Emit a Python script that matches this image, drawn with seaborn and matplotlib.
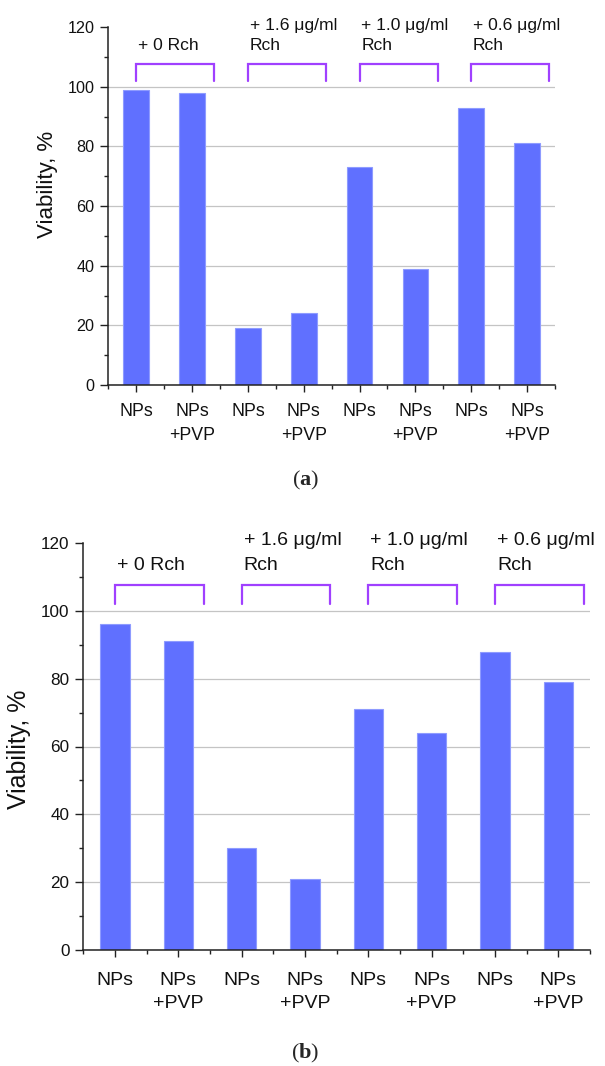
import numpy as np
import pandas as pd
import matplotlib
matplotlib.use("Agg")
import matplotlib.pyplot as plt
import matplotlib.transforms as mtransforms
from matplotlib.ticker import MultipleLocator, FixedLocator
import seaborn as sns

# ---- data ----
groups = ["+ 0 Rch", "+ 1.6 μg/ml\nRch", "+ 1.0 μg/ml\nRch", "+ 0.6 μg/ml\nRch"]
samples = ["NPs", "NPs\n+PVP"]
viability_a = [99, 98, 19, 24, 73, 39, 93, 81]
viability_b = [96, 91, 30, 21, 71, 64, 88, 79]
yticks = [0, 20, 40, 60, 80, 100, 120]
ylabel = "Viability, %"
captions = ["a", "b"]

sns.set_style("ticks")
plt.rcParams["font.family"] = ["Liberation Sans", "DejaVu Sans"]
plt.rcParams["mathtext.fontset"] = "custom"
plt.rcParams["mathtext.rm"] = "Liberation Serif"
plt.rcParams["mathtext.bf"] = "Liberation Serif:bold"

BAR = "#6070FF"
EDGE = "#8E9BFF"
BRACKET = "#A040FF"
GRID = "#C4C4C4"
SPINE = "#222222"

W, H = 605, 1066
fig = plt.figure(figsize=(W / 100, H / 100), dpi=100)


def make_df(vals):
    keys, labels, grp = [], [], []
    for gi, g in enumerate(groups):
        for s in samples:
            keys.append(f"{gi}|{s}")
            labels.append(s)
            grp.append(gi)
    return pd.DataFrame({"key": keys, "label": labels, "group": grp, "viability": vals})


def draw(ax, vals, fs_xt, fs_yt, fs_ann, fs_ylab, xpad, ylab_x, ylab_y, xt_ls, ann_ls, ann_y):
    df = make_df(vals)
    sns.barplot(data=df, x="key", y="viability", order=list(df["key"]),
                color=BAR, saturation=1, width=0.46, edgecolor=EDGE,
                linewidth=0.8, ax=ax, zorder=3)
    ax.set_xlim(-0.5, 7.5)
    ax.set_ylim(0, 120)
    ax.set_yticks(yticks)
    ax.yaxis.set_minor_locator(MultipleLocator(10))
    ax.set_xticks(range(len(df)))
    ax.set_xticklabels(df["label"], fontsize=fs_xt, linespacing=xt_ls, color="#111111")
    ax.xaxis.set_minor_locator(FixedLocator(np.arange(-0.5, 8, 1)))
    for lab in ax.get_yticklabels():
        lab.set_fontsize(fs_yt)
        lab.set_color("#111111")
    # shift two-line labels slightly left, like the reference
    for lab, txt in zip(ax.get_xticklabels(), df["label"]):
        if "\n" in txt:
            lab.set_transform(lab.get_transform() +
                              mtransforms.ScaledTranslation(-5 / 100, 0, fig.dpi_scale_trans))
    ax.tick_params(axis="x", which="major", length=5, width=1.0, pad=xpad, color=SPINE, direction="out")
    ax.tick_params(axis="x", which="minor", length=3, width=1.0, color=SPINE, direction="out")
    ax.tick_params(axis="y", which="major", length=6, width=1.0, pad=4, color=SPINE, direction="out")
    ax.tick_params(axis="y", which="minor", length=3, width=1.0, color=SPINE, direction="out")
    ax.set_xlabel("")
    ax.set_ylabel("")
    ax.text(ylab_x, ylab_y, ylabel, transform=ax.transAxes, rotation=90,
            ha="center", va="center", fontsize=fs_ylab, color="#111111")
    sns.despine(ax=ax)
    for sp in ["left", "bottom"]:
        ax.spines[sp].set_color(SPINE)
        ax.spines[sp].set_linewidth(1.1)
        ax.spines[sp].set_zorder(5)
    ax.set_axisbelow(True)
    ax.grid(True, axis="y", which="major", color=GRID, lw=0.9)
    ax.grid(False, axis="x")
    gls = ax.get_ygridlines()
    gls[-1].set_visible(False)
    # group brackets and labels
    for gi, g in enumerate(groups):
        x0 = df.index[df["group"] == gi][0]
        x1 = x0 + 1.4
        ax.plot([x0, x0, x1, x1], [102, 107.5, 107.5, 102], color=BRACKET,
                lw=1.6, solid_joinstyle="miter", clip_on=False, zorder=4)
        ax.text(x0 + 0.03, ann_y, g, ha="left", va="bottom", fontsize=fs_ann,
                linespacing=ann_ls, color="#111111")


ax_a = fig.add_axes([108.3 / W, 1 - 385 / H, 446.7 / W, 358 / H])
draw(ax_a, viability_a, fs_xt=12.8, fs_yt=11.6, fs_ann=12.6, fs_ylab=16,
     xpad=8, ylab_x=-0.136, ylab_y=0.56, xt_ls=1.5, ann_ls=1.4, ann_y=111.4)

ax_b = fig.add_axes([83.3 / W, 1 - 950 / H, 506.7 / W, 407 / H])
draw(ax_b, viability_b, fs_xt=14, fs_yt=12.3, fs_ann=14, fs_ylab=18,
     xpad=11, ylab_x=-0.126, ylab_y=0.494, xt_ls=1.45, ann_ls=1.6, ann_y=110.9)

fig.text(306 / W, 1 - 480 / H, r"($\mathbf{%s}$)" % captions[0], ha="center", va="center",
         fontsize=16, family="Liberation Serif")
fig.text(305 / W, 1 - 1053 / H, r"($\mathbf{%s}$)" % captions[1], ha="center", va="center",
         fontsize=16, family="Liberation Serif")

fig.savefig("out.png", dpi=100, facecolor="white")
